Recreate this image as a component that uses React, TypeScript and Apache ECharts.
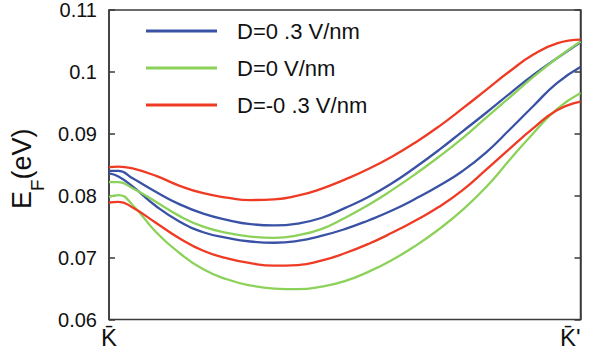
import React, { useEffect, useRef } from "react";
import * as echarts from "echarts";

// k-path position from K̄ (0) to K̄' (1)
const kPath = [0, 0.02, 0.05, 0.1, 0.15, 0.2, 0.25, 0.3, 0.35, 0.4, 0.45, 0.5, 0.55, 0.6, 0.65, 0.7, 0.75, 0.8, 0.85, 0.9, 0.95, 1.0];

// D = 0.3 V/nm (blue)
const bluePlusUpper = [0.0840, 0.0840, 0.0828, 0.0806, 0.0786, 0.0771, 0.0761, 0.0754, 0.0752, 0.0755, 0.0764, 0.0780, 0.0798, 0.0820, 0.0846, 0.0874, 0.0904, 0.0934, 0.0965, 0.0995, 0.1022, 0.1048];
const bluePlusLower = [0.0836, 0.0831, 0.0815, 0.0783, 0.0758, 0.0741, 0.0732, 0.0726, 0.0724, 0.0727, 0.0735, 0.0746, 0.0760, 0.0776, 0.0795, 0.0816, 0.0840, 0.0870, 0.0907, 0.0945, 0.0982, 0.1008];
// D = 0 V/nm (green)
const greenZeroUpper = [0.0822, 0.0822, 0.0812, 0.0790, 0.0767, 0.0750, 0.0740, 0.0734, 0.0732, 0.0736, 0.0746, 0.0764, 0.0785, 0.0809, 0.0835, 0.0863, 0.0893, 0.0926, 0.0959, 0.0992, 0.1022, 0.1049];
const greenZeroLower = [0.0798, 0.0801, 0.0785, 0.0741, 0.0707, 0.0681, 0.0665, 0.0655, 0.0650, 0.0649, 0.0653, 0.0662, 0.0677, 0.0696, 0.0719, 0.0746, 0.0777, 0.0814, 0.0858, 0.0901, 0.0940, 0.0966];
// D = -0.3 V/nm (red)
const redMinusUpper = [0.0846, 0.0847, 0.0844, 0.0832, 0.0816, 0.0804, 0.0797, 0.0793, 0.0794, 0.0800, 0.0811, 0.0826, 0.0843, 0.0863, 0.0886, 0.0912, 0.0941, 0.0971, 0.1001, 0.1028, 0.1046, 0.1052];
const redMinusLower = [0.0789, 0.0790, 0.0781, 0.0756, 0.0731, 0.0711, 0.0699, 0.0691, 0.0687, 0.0688, 0.0695, 0.0707, 0.0722, 0.0740, 0.0760, 0.0782, 0.0809, 0.0842, 0.0876, 0.0909, 0.0938, 0.0952];

const legendNames = ["D=0 .3 V/nm", "D=0 V/nm", "D=-0 .3 V/nm"];
const xTickLabels = ["K\u0304", "K\u0304'"];
const yTicks = { min: 0.06, max: 0.11, interval: 0.01 };

const BLUE = "#3a52a5";
const GREEN = "#8cd25a";
const RED = "#ef3b24";
const AXIS = "#3a3a3a";
const FONT = "Liberation Sans, Arial, sans-serif";

const pairs = (vals: number[]) => kPath.map((k, i) => [k, vals[i]]);

export default function App() {
  const ref = useRef<HTMLDivElement>(null);
  useEffect(() => {
    if (!ref.current) return;
    const chart = echarts.init(ref.current, undefined, { renderer: "svg" });
    const mk = (name: string, color: string, vals: number[]) => ({
      type: "line",
      name,
      data: pairs(vals),
      smooth: 0.5,
      showSymbol: false,
      symbol: "none",
      lineStyle: { color, width: 2.3 },
      itemStyle: { color },
      xAxisIndex: 0,
      yAxisIndex: 0,
    });
    chart.setOption({
      animation: false,
      textStyle: { fontFamily: FONT },
      grid: {
        left: 109,
        right: 11.5,
        top: 10,
        bottom: 34.5,
        show: true,
        borderColor: AXIS,
        borderWidth: 1.5,
        backgroundColor: "transparent",
      },
      legend: {
        orient: "vertical",
        left: 141,
        top: 15,
        itemWidth: 71,
        itemHeight: 3,
        itemGap: 15,
        icon: "rect",
        data: legendNames,
        textStyle: {
          fontSize: 22,
          color: "#111",
          fontFamily: FONT,
          padding: [0, 0, 0, 15],
        },
      },
      xAxis: {
        type: "value",
        min: 0,
        max: 1,
        interval: 1,
        axisLine: { show: false },
        axisTick: { show: false },
        splitLine: { show: false },
        axisLabel: {
          fontSize: 24,
          color: "#111",
          fontFamily: FONT,
          margin: 6,
          alignMinLabel: "center",
          alignMaxLabel: "right",
          formatter: (v: number) => (v === 0 ? xTickLabels[0] : xTickLabels[1]),
        },
      },
      yAxis: [
        {
          type: "value",
          min: yTicks.min,
          max: yTicks.max,
          interval: yTicks.interval,
          position: "left",
          axisLine: { show: true, lineStyle: { color: AXIS, width: 1.5 } },
          axisTick: { show: true, inside: true, length: 6, lineStyle: { color: AXIS, width: 1.5 } },
          splitLine: { show: false },
          axisLabel: { fontSize: 20, color: "#111", margin: 12, fontFamily: FONT },
          name: "{e|E}{f|F}{g|(eV)}",
          nameLocation: "middle",
          nameRotate: 90,
          nameGap: 60,
          nameTextStyle: {
            color: "#111",
            fontFamily: FONT,
            rich: {
              e: { fontSize: 27, fontFamily: FONT, color: "#111" },
              f: { fontSize: 19, fontFamily: FONT, color: "#111", padding: [32, 0, 0, 0] },
              g: { fontSize: 27, fontFamily: FONT, color: "#111", padding: [0, 8, 0, 0] },
            },
          },
        },
        {
          type: "value",
          min: yTicks.min,
          max: yTicks.max,
          interval: yTicks.interval,
          position: "right",
          axisLine: { show: true, lineStyle: { color: AXIS, width: 1.5 } },
          axisTick: { show: true, inside: true, length: 6, lineStyle: { color: AXIS, width: 1.5 } },
          splitLine: { show: false },
          axisLabel: { show: false },
        },
      ],
      series: [
        mk(legendNames[0], BLUE, bluePlusUpper),
        mk(legendNames[0], BLUE, bluePlusLower),
        mk(legendNames[1], GREEN, greenZeroUpper),
        mk(legendNames[1], GREEN, greenZeroLower),
        mk(legendNames[2], RED, redMinusUpper),
        mk(legendNames[2], RED, redMinusLower),
      ],
    });
    return () => chart.dispose();
  }, []);
  return <div ref={ref} style={{ width: 592, height: 354, position: "absolute", left: 0, top: 0 }} />;
}
